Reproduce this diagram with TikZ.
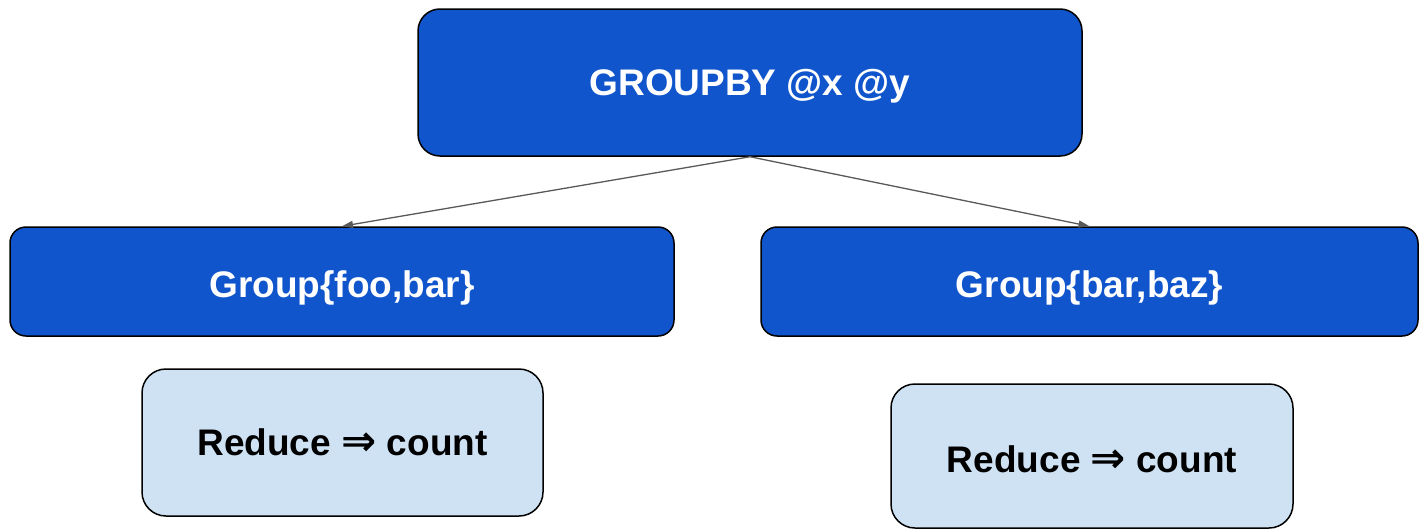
\documentclass[tikz,border=0pt]{standalone}
\usepackage{fontspec}
\setmainfont{Liberation Sans}
\newfontfamily\arrowfont{DejaVu Sans Bold}
\usetikzlibrary{arrows.meta}
\definecolor{groupblue}{HTML}{1155CC}
\definecolor{reduceblue}{HTML}{CFE2F3}
\definecolor{linkgray}{HTML}{595959}
\newcommand{\implarrow}{{\arrowfont\fontsize{42}{44}\selectfont ⇒}}
\tikzset{
  boxbase/.style={draw=black, line width=1.5pt, inner sep=0pt,
    font=\fontsize{37}{44}\selectfont\bfseries,
    text height=26.5pt, text depth=0pt},
  darkbox/.style={boxbase, fill=groupblue, text=white},
  lightbox/.style={boxbase, fill=reduceblue, text=black},
  link/.style={draw=linkgray, line width=1.3pt,
    -{Triangle[length=11pt,width=7pt]}}
}
\begin{document}
\begin{tikzpicture}[x=1pt,y=-1pt]
  \useasboundingbox (0,0) rectangle (1419,530);
  % top-level operation
  \node[darkbox, rounded corners=22pt, minimum width=664pt, minimum height=147pt]
    (gb) at (750,82.5) {GROUPBY @x @y};
  % the two groups
  \node[darkbox, rounded corners=16pt, minimum width=664pt, minimum height=109pt,
    text height=31pt] (g1) at (342,281.5) {Group\{foo,bar\}};
  \node[darkbox, rounded corners=16pt, minimum width=657pt, minimum height=109pt,
    text height=31pt] (g2) at (1089.5,281.5) {Group\{bar,baz\}};
  % reducers
  \node[lightbox, rounded corners=24pt, minimum width=401pt, minimum height=147pt]
    (r1) at (342.5,442.5) {Reduce \implarrow{} count};
  \node[lightbox, rounded corners=24pt, minimum width=402pt, minimum height=144pt,
    text height=33pt] (r2) at (1092,456) {Reduce \implarrow{} count};
  % links
  \draw[link] (gb.south) -- (g1.north);
  \draw[link] (gb.south) -- (g2.north);
\end{tikzpicture}
\end{document}
